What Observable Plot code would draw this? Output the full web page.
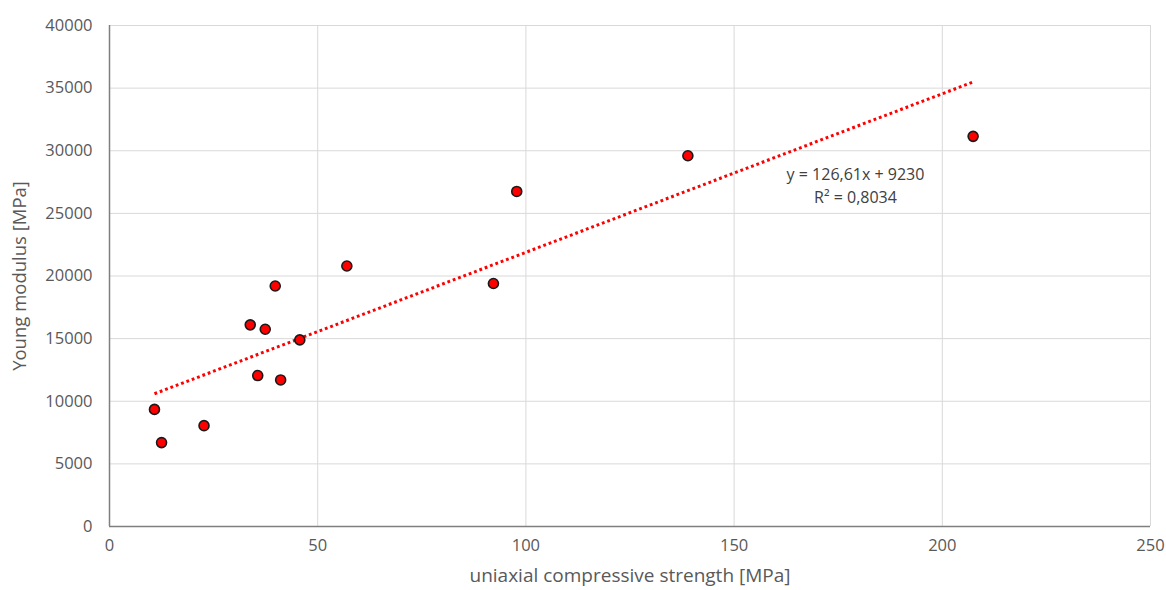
<!DOCTYPE html>
<html>
<head>
<meta charset="utf-8">
<script src="https://cdn.jsdelivr.net/npm/d3@7"></script>
<script src="https://cdn.jsdelivr.net/npm/@observablehq/plot@0.6"></script>
<style>
  html, body { margin: 0; padding: 0; background: #fff; }
  #chart svg { display: block; }
</style>
</head>
<body>
<div id="chart"></div>
<script>
// Data
const ucs = [10.8, 12.5, 22.7, 33.8, 37.4, 39.8, 35.6, 41.1, 45.7, 57.0, 97.8, 92.2, 138.9, 207.4];
const youngModulus = [9350, 6700, 8050, 16100, 15750, 19200, 12050, 11700, 14900, 20800, 26750, 19400, 29600, 31150];
const xTicks = [0, 50, 100, 150, 200, 250];
const yTicks = [0, 5000, 10000, 15000, 20000, 25000, 30000, 35000, 40000];
const trendSlope = 126.61;
const trendIntercept = 9230;
const equationLines = ["y = 126,61x + 9230", "R² = 0,8034"];
const xLabel = "uniaxial compressive strength [MPa]";
const yLabel = "Young modulus [MPa]";

const points = ucs.map((x, i) => ({x, y: youngModulus[i]}));
const xMin = d3.min(ucs), xMax = d3.max(ucs);
const trend = [xMin, xMax].map(x => ({x, y: trendSlope * x + trendIntercept}));

const font = "Open Sans, sans-serif";
const chart = Plot.plot({
  width: 1166,
  height: 590,
  marginLeft: 109,
  marginRight: 16,
  marginTop: 25,
  marginBottom: 64,
  style: {fontFamily: font, fontSize: "16px", color: "#595959", background: "#fff"},
  x: {domain: [0, 250]},
  y: {domain: [0, 40000]},
  marks: [
    Plot.gridX(xTicks.slice(1), {stroke: "#d9d9d9", strokeOpacity: 1, strokeWidth: 1}),
    Plot.gridY(yTicks.slice(1), {stroke: "#d9d9d9", strokeOpacity: 1, strokeWidth: 1}),
    Plot.axisX(xTicks, {tickSize: 0, tickPadding: 13, fontSize: 16.5, fill: "#595959", tickFormat: d => String(d), label: null}),
    Plot.axisY(yTicks, {tickSize: 0, tickPadding: 17, fontSize: 16.5, fill: "#595959", tickFormat: d => String(d), label: null}),
    Plot.text([xLabel], {frameAnchor: "bottom", dy: 55, text: d => d, fontSize: 19, fill: "#595959"}),
    Plot.text([yLabel], {frameAnchor: "left", dx: -89, rotate: -90, textAnchor: "middle", text: d => d, fontSize: 18.5, fill: "#595959"}),
    Plot.ruleY([0], {stroke: "#7f7f7f", strokeWidth: 1.5}),
    Plot.ruleX([0], {stroke: "#7f7f7f", strokeWidth: 1.5}),
    Plot.line(trend, {x: "x", y: "y", stroke: "#ff0000", strokeWidth: 3, strokeDasharray: "2.8 2.9", strokeLinecap: "butt"}),
    Plot.dot(points, {x: "x", y: "y", r: 5, fill: "#ff0000", stroke: "#1a1a1a", strokeWidth: 1.6}),
    Plot.text([equationLines.join("\n")], {frameAnchor: "top-left", dx: 746, dy: 139, text: d => d,
      textAnchor: "middle", fontSize: 16, fill: "#404040", lineHeight: 1.4})
  ]
});
document.getElementById("chart").appendChild(chart);
</script>
</body>
</html>
